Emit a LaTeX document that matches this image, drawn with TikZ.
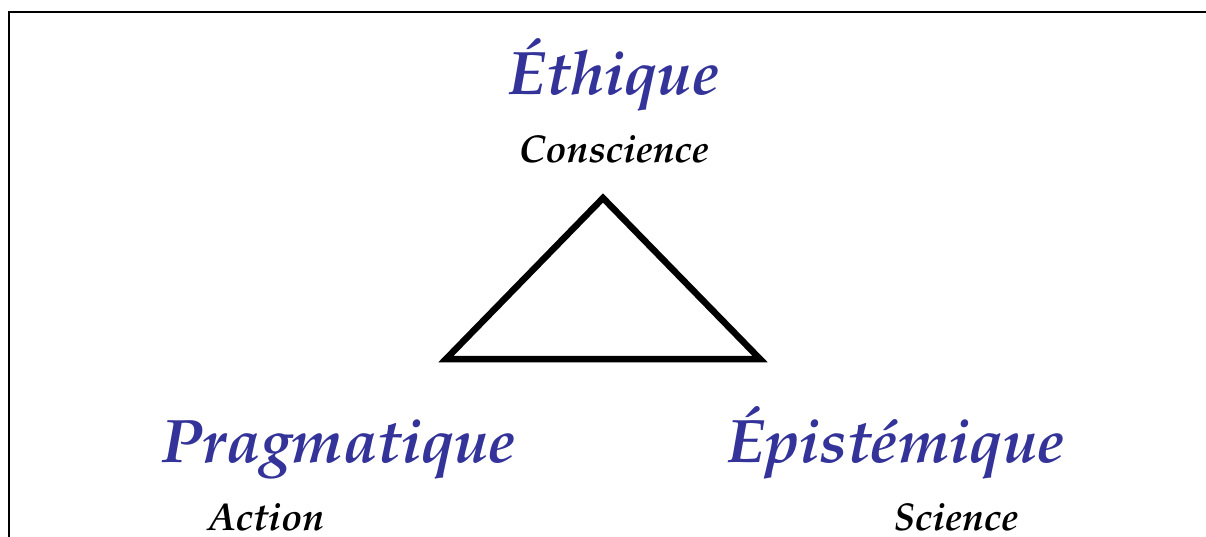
\documentclass[tikz,border=0pt]{standalone}
\usepackage[T1]{fontenc}
\usepackage{mathpazo}
\usepackage{xcolor}
\usetikzlibrary{positioning}
\definecolor{polecol}{RGB}{51, 51, 153}
\tikzstyle{pole} = [anchor=base, inner sep=0pt, text=polecol, font=\fontsize{61.5}{72}\selectfont\bfseries\itshape]
\tikzstyle{sub}  = [anchor=base, inner sep=0pt, text=black, font=\fontsize{38.8}{46}\selectfont\bfseries\itshape]
\tikzstyle{edge} = [line width=6.5pt, line join=miter]

\begin{document}
\begin{tikzpicture}[x=1pt, y=-1pt]
  \useasboundingbox (0,0) rectangle (1206,536);
  \clip (0,0) rectangle (1206,536);
  \draw [line width=2pt] (9,12) rectangle (1230,560);

  % Top pole
  \node (eth)  [pole] at (614,94)  {\'Ethique};
  \node (cons) [sub]  at (614,162) {Conscience};

  % Triangle
  \coordinate (apex) at (603,198);
  \coordinate (bl)   at (446,359);
  \coordinate (br)   at (760,359);
  \draw [edge] (apex) -- (bl) -- (br) -- cycle;

  % Bottom poles
  \node (prag) [pole] at (339,462) {Pragmatique};
  \node (act)  [sub]  at (266,530) {Action};
  \node (epi)  [pole] at (896,462) {\'Epist\'emique};
  \node (sci)  [sub]  at (956,530) {Science};
\end{tikzpicture}
\end{document}
